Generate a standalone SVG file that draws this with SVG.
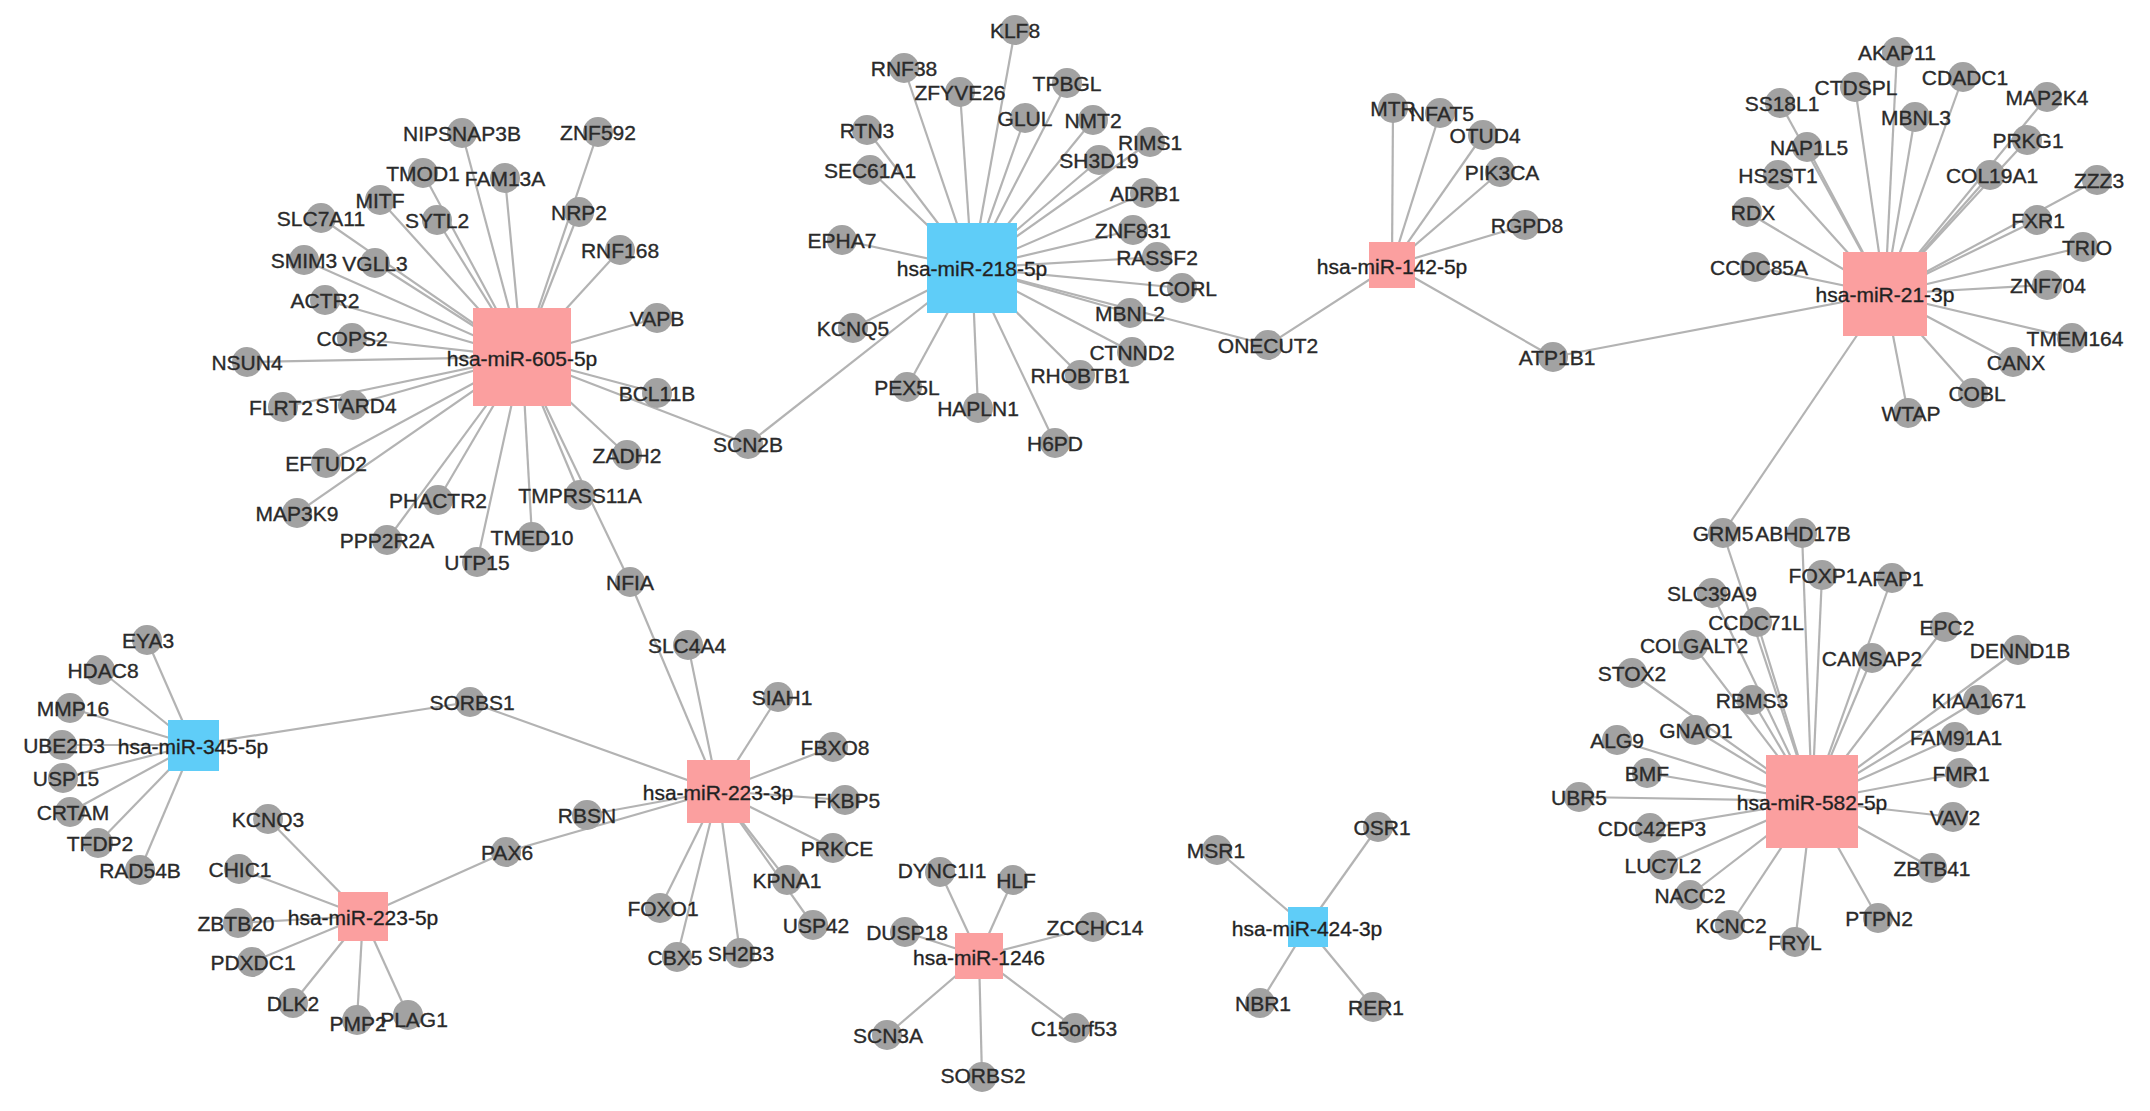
<svg xmlns="http://www.w3.org/2000/svg" width="2150" height="1111" viewBox="0 0 2150 1111">
<style>
.e line{stroke:#b3b3b3;stroke-width:2.2}
.n circle{fill:#a2a2a2}
text{font-family:"Liberation Sans",Arial,sans-serif;font-size:21px;fill:#2a2a2a;stroke:#2a2a2a;stroke-width:0.35;text-anchor:middle;dominant-baseline:central}
.p{fill:#fb9f9f}
.b{fill:#5fcdf8}
.m text{fill:#1f1f1f}
</style>
<rect width="2150" height="1111" fill="#fff"/>
<g id="connectors" class="e">
<line x1="522" y1="357" x2="462" y2="133"/><line x1="522" y1="357" x2="598" y2="132"/><line x1="522" y1="357" x2="423" y2="173"/><line x1="522" y1="357" x2="505" y2="178"/><line x1="522" y1="357" x2="380" y2="200"/><line x1="522" y1="357" x2="321" y2="218"/><line x1="522" y1="357" x2="437" y2="220"/><line x1="522" y1="357" x2="579" y2="212"/><line x1="522" y1="357" x2="620" y2="250"/><line x1="522" y1="357" x2="304" y2="260"/><line x1="522" y1="357" x2="375" y2="263"/><line x1="522" y1="357" x2="325" y2="300"/><line x1="522" y1="357" x2="352" y2="338"/><line x1="522" y1="357" x2="657" y2="318"/><line x1="522" y1="357" x2="247" y2="362"/><line x1="522" y1="357" x2="657" y2="393"/><line x1="522" y1="357" x2="283" y2="407"/><line x1="522" y1="357" x2="353" y2="405"/><line x1="522" y1="357" x2="326" y2="463"/><line x1="522" y1="357" x2="297" y2="513"/><line x1="522" y1="357" x2="438" y2="500"/><line x1="522" y1="357" x2="387" y2="540"/><line x1="522" y1="357" x2="477" y2="562"/><line x1="522" y1="357" x2="532" y2="537"/><line x1="522" y1="357" x2="580" y2="495"/><line x1="522" y1="357" x2="627" y2="455"/><line x1="522" y1="357" x2="630" y2="582"/><line x1="522" y1="357" x2="748" y2="444"/>
<line x1="972" y1="268" x2="1015" y2="30"/><line x1="972" y1="268" x2="904" y2="68"/><line x1="972" y1="268" x2="960" y2="92"/><line x1="972" y1="268" x2="1067" y2="83"/><line x1="972" y1="268" x2="1025" y2="118"/><line x1="972" y1="268" x2="1093" y2="120"/><line x1="972" y1="268" x2="867" y2="130"/><line x1="972" y1="268" x2="1150" y2="142"/><line x1="972" y1="268" x2="1099" y2="160"/><line x1="972" y1="268" x2="870" y2="170"/><line x1="972" y1="268" x2="1145" y2="193"/><line x1="972" y1="268" x2="1133" y2="230"/><line x1="972" y1="268" x2="842" y2="240"/><line x1="972" y1="268" x2="1157" y2="257"/><line x1="972" y1="268" x2="1182" y2="288"/><line x1="972" y1="268" x2="1130" y2="313"/><line x1="972" y1="268" x2="853" y2="328"/><line x1="972" y1="268" x2="1132" y2="352"/><line x1="972" y1="268" x2="1080" y2="375"/><line x1="972" y1="268" x2="907" y2="387"/><line x1="972" y1="268" x2="978" y2="408"/><line x1="972" y1="268" x2="1055" y2="443"/><line x1="972" y1="268" x2="1268" y2="345"/><line x1="972" y1="268" x2="748" y2="444"/>
<line x1="1392" y1="265" x2="1393" y2="108"/><line x1="1392" y1="265" x2="1440" y2="113"/><line x1="1392" y1="265" x2="1483" y2="135"/><line x1="1392" y1="265" x2="1500" y2="172"/><line x1="1392" y1="265" x2="1525" y2="225"/><line x1="1392" y1="265" x2="1268" y2="345"/><line x1="1392" y1="265" x2="1553" y2="357"/>
<line x1="1885" y1="294" x2="1897" y2="52"/><line x1="1885" y1="294" x2="1855" y2="87"/><line x1="1885" y1="294" x2="1963" y2="77"/><line x1="1885" y1="294" x2="1780" y2="103"/><line x1="1885" y1="294" x2="2047" y2="97"/><line x1="1885" y1="294" x2="1915" y2="117"/><line x1="1885" y1="294" x2="2027" y2="140"/><line x1="1885" y1="294" x2="1807" y2="147"/><line x1="1885" y1="294" x2="1778" y2="175"/><line x1="1885" y1="294" x2="1990" y2="175"/><line x1="1885" y1="294" x2="2097" y2="180"/><line x1="1885" y1="294" x2="1747" y2="212"/><line x1="1885" y1="294" x2="2037" y2="220"/><line x1="1885" y1="294" x2="2083" y2="247"/><line x1="1885" y1="294" x2="1755" y2="267"/><line x1="1885" y1="294" x2="2047" y2="285"/><line x1="1885" y1="294" x2="2072" y2="338"/><line x1="1885" y1="294" x2="2013" y2="362"/><line x1="1885" y1="294" x2="1973" y2="393"/><line x1="1885" y1="294" x2="1908" y2="413"/><line x1="1885" y1="294" x2="1553" y2="357"/><line x1="1885" y1="294" x2="1723" y2="533"/>
<line x1="1812" y1="801" x2="1723" y2="533"/><line x1="1812" y1="801" x2="1802" y2="533"/><line x1="1812" y1="801" x2="1822" y2="575"/><line x1="1812" y1="801" x2="1892" y2="578"/><line x1="1812" y1="801" x2="1712" y2="593"/><line x1="1812" y1="801" x2="1757" y2="622"/><line x1="1812" y1="801" x2="1945" y2="627"/><line x1="1812" y1="801" x2="1693" y2="645"/><line x1="1812" y1="801" x2="2018" y2="650"/><line x1="1812" y1="801" x2="1872" y2="658"/><line x1="1812" y1="801" x2="1632" y2="673"/><line x1="1812" y1="801" x2="1752" y2="700"/><line x1="1812" y1="801" x2="1978" y2="700"/><line x1="1812" y1="801" x2="1617" y2="740"/><line x1="1812" y1="801" x2="1695" y2="730"/><line x1="1812" y1="801" x2="1955" y2="737"/><line x1="1812" y1="801" x2="1647" y2="773"/><line x1="1812" y1="801" x2="1960" y2="773"/><line x1="1812" y1="801" x2="1579" y2="797"/><line x1="1812" y1="801" x2="1650" y2="828"/><line x1="1812" y1="801" x2="1953" y2="817"/><line x1="1812" y1="801" x2="1663" y2="865"/><line x1="1812" y1="801" x2="1932" y2="868"/><line x1="1812" y1="801" x2="1690" y2="895"/><line x1="1812" y1="801" x2="1878" y2="918"/><line x1="1812" y1="801" x2="1730" y2="925"/><line x1="1812" y1="801" x2="1795" y2="942"/>
<line x1="193" y1="745" x2="147" y2="640"/><line x1="193" y1="745" x2="100" y2="670"/><line x1="193" y1="745" x2="70" y2="708"/><line x1="193" y1="745" x2="62" y2="745"/><line x1="193" y1="745" x2="63" y2="778"/><line x1="193" y1="745" x2="70" y2="812"/><line x1="193" y1="745" x2="98" y2="843"/><line x1="193" y1="745" x2="140" y2="870"/><line x1="193" y1="745" x2="470" y2="702"/>
<line x1="363" y1="916" x2="268" y2="819"/><line x1="363" y1="916" x2="239" y2="869"/><line x1="363" y1="916" x2="238" y2="923"/><line x1="363" y1="916" x2="252" y2="962"/><line x1="363" y1="916" x2="293" y2="1003"/><line x1="363" y1="916" x2="357" y2="1020"/><line x1="363" y1="916" x2="408" y2="1015"/><line x1="363" y1="916" x2="506" y2="852"/>
<line x1="718" y1="791" x2="630" y2="582"/><line x1="718" y1="791" x2="688" y2="645"/><line x1="718" y1="791" x2="778" y2="697"/><line x1="718" y1="791" x2="833" y2="747"/><line x1="718" y1="791" x2="845" y2="800"/><line x1="718" y1="791" x2="833" y2="848"/><line x1="718" y1="791" x2="787" y2="880"/><line x1="718" y1="791" x2="813" y2="925"/><line x1="718" y1="791" x2="740" y2="953"/><line x1="718" y1="791" x2="677" y2="957"/><line x1="718" y1="791" x2="660" y2="908"/><line x1="718" y1="791" x2="587" y2="815"/><line x1="718" y1="791" x2="506" y2="852"/><line x1="718" y1="791" x2="470" y2="702"/>
<line x1="979" y1="956" x2="940" y2="872"/><line x1="979" y1="956" x2="1013" y2="880"/><line x1="979" y1="956" x2="905" y2="932"/><line x1="979" y1="956" x2="1093" y2="927"/><line x1="979" y1="956" x2="887" y2="1035"/><line x1="979" y1="956" x2="1075" y2="1028"/><line x1="979" y1="956" x2="982" y2="1077"/>
<line x1="1307" y1="927" x2="1217" y2="850"/><line x1="1307" y1="927" x2="1378" y2="827"/><line x1="1307" y1="927" x2="1260" y2="1003"/><line x1="1307" y1="927" x2="1373" y2="1007"/>
</g>
<g id="mirnas" class="m">
<g id="hsa-miR-605-5p"><rect class="p" x="473" y="308" width="98" height="98"/><text x="522" y="358">hsa-miR-605-5p</text></g>
<g id="hsa-miR-218-5p"><rect class="b" x="927" y="223" width="90" height="90"/><text x="972" y="268">hsa-miR-218-5p</text></g>
<g id="hsa-miR-142-5p"><rect class="p" x="1369" y="242" width="46" height="46"/><text x="1392" y="266">hsa-miR-142-5p</text></g>
<g id="hsa-miR-21-3p"><rect class="p" x="1843" y="252" width="84" height="84"/><text x="1885" y="294">hsa-miR-21-3p</text></g>
<g id="hsa-miR-582-5p"><rect class="p" x="1766" y="755" width="92" height="93"/><text x="1812" y="802">hsa-miR-582-5p</text></g>
<g id="hsa-miR-345-5p"><rect class="b" x="168" y="720" width="51" height="51"/><text x="193" y="746">hsa-miR-345-5p</text></g>
<g id="hsa-miR-223-5p"><rect class="p" x="338" y="892" width="50" height="49"/><text x="363" y="917">hsa-miR-223-5p</text></g>
<g id="hsa-miR-223-3p"><rect class="p" x="687" y="760" width="63" height="63"/><text x="718" y="792">hsa-miR-223-3p</text></g>
<g id="hsa-miR-1246"><rect class="p" x="955" y="933" width="48" height="46"/><text x="979" y="957">hsa-miR-1246</text></g>
<g id="hsa-miR-424-3p"><rect class="b" x="1288" y="907" width="40" height="40"/><text x="1307" y="928">hsa-miR-424-3p</text></g>
</g>
<g id="genes" class="n">
<g id="NIPSNAP3B"><circle cx="462" cy="133" r="15"/><text x="462" y="133">NIPSNAP3B</text></g>
<g id="ZNF592"><circle cx="598" cy="132" r="15"/><text x="598" y="132">ZNF592</text></g>
<g id="TMOD1"><circle cx="423" cy="173" r="15"/><text x="423" y="173">TMOD1</text></g>
<g id="FAM13A"><circle cx="505" cy="178" r="15"/><text x="505" y="178">FAM13A</text></g>
<g id="MITF"><circle cx="380" cy="200" r="15"/><text x="380" y="200">MITF</text></g>
<g id="SLC7A11"><circle cx="321" cy="218" r="15"/><text x="321" y="218">SLC7A11</text></g>
<g id="SYTL2"><circle cx="437" cy="220" r="15"/><text x="437" y="220">SYTL2</text></g>
<g id="NRP2"><circle cx="579" cy="212" r="15"/><text x="579" y="212">NRP2</text></g>
<g id="RNF168"><circle cx="620" cy="250" r="15"/><text x="620" y="250">RNF168</text></g>
<g id="SMIM3"><circle cx="304" cy="260" r="15"/><text x="304" y="260">SMIM3</text></g>
<g id="VGLL3"><circle cx="375" cy="263" r="15"/><text x="375" y="263">VGLL3</text></g>
<g id="ACTR2"><circle cx="325" cy="300" r="15"/><text x="325" y="300">ACTR2</text></g>
<g id="COPS2"><circle cx="352" cy="338" r="15"/><text x="352" y="338">COPS2</text></g>
<g id="VAPB"><circle cx="657" cy="318" r="15"/><text x="657" y="318">VAPB</text></g>
<g id="NSUN4"><circle cx="247" cy="362" r="15"/><text x="247" y="362">NSUN4</text></g>
<g id="BCL11B"><circle cx="657" cy="393" r="15"/><text x="657" y="393">BCL11B</text></g>
<g id="FLRT2"><circle cx="283" cy="407" r="15"/><text x="281" y="407">FLRT2</text></g>
<g id="STARD4"><circle cx="353" cy="405" r="15"/><text x="356" y="405">STARD4</text></g>
<g id="EFTUD2"><circle cx="326" cy="463" r="15"/><text x="326" y="463">EFTUD2</text></g>
<g id="MAP3K9"><circle cx="297" cy="513" r="15"/><text x="297" y="513">MAP3K9</text></g>
<g id="PHACTR2"><circle cx="438" cy="500" r="15"/><text x="438" y="500">PHACTR2</text></g>
<g id="PPP2R2A"><circle cx="387" cy="540" r="15"/><text x="387" y="540">PPP2R2A</text></g>
<g id="UTP15"><circle cx="477" cy="562" r="15"/><text x="477" y="562">UTP15</text></g>
<g id="TMED10"><circle cx="532" cy="537" r="15"/><text x="532" y="537">TMED10</text></g>
<g id="TMPRSS11A"><circle cx="580" cy="495" r="15"/><text x="580" y="495">TMPRSS11A</text></g>
<g id="ZADH2"><circle cx="627" cy="455" r="15"/><text x="627" y="455">ZADH2</text></g>
<g id="NFIA"><circle cx="630" cy="582" r="15"/><text x="630" y="582">NFIA</text></g>
<g id="SCN2B"><circle cx="748" cy="444" r="15"/><text x="748" y="444">SCN2B</text></g>
<g id="KLF8"><circle cx="1015" cy="30" r="15"/><text x="1015" y="30">KLF8</text></g>
<g id="RNF38"><circle cx="904" cy="68" r="15"/><text x="904" y="68">RNF38</text></g>
<g id="ZFYVE26"><circle cx="960" cy="92" r="15"/><text x="960" y="92">ZFYVE26</text></g>
<g id="TPBGL"><circle cx="1067" cy="83" r="15"/><text x="1067" y="83">TPBGL</text></g>
<g id="GLUL"><circle cx="1025" cy="118" r="15"/><text x="1025" y="118">GLUL</text></g>
<g id="NMT2"><circle cx="1093" cy="120" r="15"/><text x="1093" y="120">NMT2</text></g>
<g id="RTN3"><circle cx="867" cy="130" r="15"/><text x="867" y="130">RTN3</text></g>
<g id="RIMS1"><circle cx="1150" cy="142" r="15"/><text x="1150" y="142">RIMS1</text></g>
<g id="SH3D19"><circle cx="1099" cy="160" r="15"/><text x="1099" y="160">SH3D19</text></g>
<g id="SEC61A1"><circle cx="870" cy="170" r="15"/><text x="870" y="170">SEC61A1</text></g>
<g id="ADRB1"><circle cx="1145" cy="193" r="15"/><text x="1145" y="193">ADRB1</text></g>
<g id="ZNF831"><circle cx="1133" cy="230" r="15"/><text x="1133" y="230">ZNF831</text></g>
<g id="EPHA7"><circle cx="842" cy="240" r="15"/><text x="842" y="240">EPHA7</text></g>
<g id="RASSF2"><circle cx="1157" cy="257" r="15"/><text x="1157" y="257">RASSF2</text></g>
<g id="LCORL"><circle cx="1182" cy="288" r="15"/><text x="1182" y="288">LCORL</text></g>
<g id="MBNL2"><circle cx="1130" cy="313" r="15"/><text x="1130" y="313">MBNL2</text></g>
<g id="KCNQ5"><circle cx="853" cy="328" r="15"/><text x="853" y="328">KCNQ5</text></g>
<g id="CTNND2"><circle cx="1132" cy="352" r="15"/><text x="1132" y="352">CTNND2</text></g>
<g id="RHOBTB1"><circle cx="1080" cy="375" r="15"/><text x="1080" y="375">RHOBTB1</text></g>
<g id="PEX5L"><circle cx="907" cy="387" r="15"/><text x="907" y="387">PEX5L</text></g>
<g id="HAPLN1"><circle cx="978" cy="408" r="15"/><text x="978" y="408">HAPLN1</text></g>
<g id="H6PD"><circle cx="1055" cy="443" r="15"/><text x="1055" y="443">H6PD</text></g>
<g id="ONECUT2"><circle cx="1268" cy="345" r="15"/><text x="1268" y="345">ONECUT2</text></g>
<g id="MTR"><circle cx="1393" cy="108" r="15"/><text x="1393" y="108">MTR</text></g>
<g id="NFAT5"><circle cx="1440" cy="113" r="15"/><text x="1442" y="113">NFAT5</text></g>
<g id="OTUD4"><circle cx="1483" cy="135" r="15"/><text x="1485" y="135">OTUD4</text></g>
<g id="PIK3CA"><circle cx="1500" cy="172" r="15"/><text x="1502" y="172">PIK3CA</text></g>
<g id="RGPD8"><circle cx="1525" cy="225" r="15"/><text x="1527" y="225">RGPD8</text></g>
<g id="ATP1B1"><circle cx="1553" cy="357" r="15"/><text x="1557" y="357">ATP1B1</text></g>
<g id="AKAP11"><circle cx="1897" cy="52" r="15"/><text x="1897" y="52">AKAP11</text></g>
<g id="CTDSPL"><circle cx="1855" cy="87" r="15"/><text x="1856" y="87">CTDSPL</text></g>
<g id="CDADC1"><circle cx="1963" cy="77" r="15"/><text x="1965" y="77">CDADC1</text></g>
<g id="SS18L1"><circle cx="1780" cy="103" r="15"/><text x="1782" y="103">SS18L1</text></g>
<g id="MAP2K4"><circle cx="2047" cy="97" r="15"/><text x="2047" y="97">MAP2K4</text></g>
<g id="MBNL3"><circle cx="1915" cy="117" r="15"/><text x="1916" y="117">MBNL3</text></g>
<g id="PRKG1"><circle cx="2027" cy="140" r="15"/><text x="2028" y="140">PRKG1</text></g>
<g id="NAP1L5"><circle cx="1807" cy="147" r="15"/><text x="1809" y="147">NAP1L5</text></g>
<g id="HS2ST1"><circle cx="1778" cy="175" r="15"/><text x="1778" y="175">HS2ST1</text></g>
<g id="COL19A1"><circle cx="1990" cy="175" r="15"/><text x="1992" y="175">COL19A1</text></g>
<g id="ZZZ3"><circle cx="2097" cy="180" r="15"/><text x="2099" y="180">ZZZ3</text></g>
<g id="RDX"><circle cx="1747" cy="212" r="15"/><text x="1753" y="212">RDX</text></g>
<g id="FXR1"><circle cx="2037" cy="220" r="15"/><text x="2038" y="220">FXR1</text></g>
<g id="TRIO"><circle cx="2083" cy="247" r="15"/><text x="2087" y="247">TRIO</text></g>
<g id="CCDC85A"><circle cx="1755" cy="267" r="15"/><text x="1759" y="267">CCDC85A</text></g>
<g id="ZNF704"><circle cx="2047" cy="285" r="15"/><text x="2048" y="285">ZNF704</text></g>
<g id="TMEM164"><circle cx="2072" cy="338" r="15"/><text x="2075" y="338">TMEM164</text></g>
<g id="CANX"><circle cx="2013" cy="362" r="15"/><text x="2016" y="362">CANX</text></g>
<g id="COBL"><circle cx="1973" cy="393" r="15"/><text x="1977" y="393">COBL</text></g>
<g id="WTAP"><circle cx="1908" cy="413" r="15"/><text x="1911" y="413">WTAP</text></g>
<g id="GRM5"><circle cx="1723" cy="533" r="15"/><text x="1723" y="533">GRM5</text></g>
<g id="ABHD17B"><circle cx="1802" cy="533" r="15"/><text x="1803" y="533">ABHD17B</text></g>
<g id="FOXP1"><circle cx="1822" cy="575" r="15"/><text x="1823" y="575">FOXP1</text></g>
<g id="AFAP1"><circle cx="1892" cy="578" r="15"/><text x="1891" y="578">AFAP1</text></g>
<g id="SLC39A9"><circle cx="1712" cy="593" r="15"/><text x="1712" y="593">SLC39A9</text></g>
<g id="CCDC71L"><circle cx="1757" cy="622" r="15"/><text x="1756" y="622">CCDC71L</text></g>
<g id="EPC2"><circle cx="1945" cy="627" r="15"/><text x="1947" y="627">EPC2</text></g>
<g id="COLGALT2"><circle cx="1693" cy="645" r="15"/><text x="1694" y="645">COLGALT2</text></g>
<g id="DENND1B"><circle cx="2018" cy="650" r="15"/><text x="2020" y="650">DENND1B</text></g>
<g id="CAMSAP2"><circle cx="1872" cy="658" r="15"/><text x="1872" y="658">CAMSAP2</text></g>
<g id="STOX2"><circle cx="1632" cy="673" r="15"/><text x="1632" y="673">STOX2</text></g>
<g id="RBMS3"><circle cx="1752" cy="700" r="15"/><text x="1752" y="700">RBMS3</text></g>
<g id="KIAA1671"><circle cx="1978" cy="700" r="15"/><text x="1979" y="700">KIAA1671</text></g>
<g id="ALG9"><circle cx="1617" cy="740" r="15"/><text x="1617" y="740">ALG9</text></g>
<g id="GNAO1"><circle cx="1695" cy="730" r="15"/><text x="1696" y="730">GNAO1</text></g>
<g id="FAM91A1"><circle cx="1955" cy="737" r="15"/><text x="1956" y="737">FAM91A1</text></g>
<g id="BMF"><circle cx="1647" cy="773" r="15"/><text x="1647" y="773">BMF</text></g>
<g id="FMR1"><circle cx="1960" cy="773" r="15"/><text x="1961" y="773">FMR1</text></g>
<g id="UBR5"><circle cx="1579" cy="797" r="15"/><text x="1579" y="797">UBR5</text></g>
<g id="CDC42EP3"><circle cx="1650" cy="828" r="15"/><text x="1652" y="828">CDC42EP3</text></g>
<g id="VAV2"><circle cx="1953" cy="817" r="15"/><text x="1955" y="817">VAV2</text></g>
<g id="LUC7L2"><circle cx="1663" cy="865" r="15"/><text x="1663" y="865">LUC7L2</text></g>
<g id="ZBTB41"><circle cx="1932" cy="868" r="15"/><text x="1932" y="868">ZBTB41</text></g>
<g id="NACC2"><circle cx="1690" cy="895" r="15"/><text x="1690" y="895">NACC2</text></g>
<g id="PTPN2"><circle cx="1878" cy="918" r="15"/><text x="1879" y="918">PTPN2</text></g>
<g id="KCNC2"><circle cx="1730" cy="925" r="15"/><text x="1731" y="925">KCNC2</text></g>
<g id="FRYL"><circle cx="1795" cy="942" r="15"/><text x="1795" y="942">FRYL</text></g>
<g id="EYA3"><circle cx="147" cy="640" r="15"/><text x="148" y="640">EYA3</text></g>
<g id="HDAC8"><circle cx="100" cy="670" r="15"/><text x="103" y="670">HDAC8</text></g>
<g id="MMP16"><circle cx="70" cy="708" r="15"/><text x="73" y="708">MMP16</text></g>
<g id="UBE2D3"><circle cx="62" cy="745" r="15"/><text x="64" y="745">UBE2D3</text></g>
<g id="USP15"><circle cx="63" cy="778" r="15"/><text x="66" y="778">USP15</text></g>
<g id="CRTAM"><circle cx="70" cy="812" r="15"/><text x="73" y="812">CRTAM</text></g>
<g id="TFDP2"><circle cx="98" cy="843" r="15"/><text x="100" y="843">TFDP2</text></g>
<g id="RAD54B"><circle cx="140" cy="870" r="15"/><text x="140" y="870">RAD54B</text></g>
<g id="SORBS1"><circle cx="470" cy="702" r="15"/><text x="472" y="702">SORBS1</text></g>
<g id="KCNQ3"><circle cx="268" cy="819" r="15"/><text x="268" y="819">KCNQ3</text></g>
<g id="CHIC1"><circle cx="239" cy="869" r="15"/><text x="240" y="869">CHIC1</text></g>
<g id="ZBTB20"><circle cx="238" cy="923" r="15"/><text x="236" y="923">ZBTB20</text></g>
<g id="PDXDC1"><circle cx="252" cy="962" r="15"/><text x="253" y="962">PDXDC1</text></g>
<g id="DLK2"><circle cx="293" cy="1003" r="15"/><text x="293" y="1003">DLK2</text></g>
<g id="PMP2"><circle cx="357" cy="1020" r="15"/><text x="358" y="1023">PMP2</text></g>
<g id="PLAG1"><circle cx="408" cy="1015" r="15"/><text x="414" y="1019">PLAG1</text></g>
<g id="PAX6"><circle cx="506" cy="852" r="15"/><text x="507" y="852">PAX6</text></g>
<g id="SLC4A4"><circle cx="688" cy="645" r="15"/><text x="687" y="645">SLC4A4</text></g>
<g id="SIAH1"><circle cx="778" cy="697" r="15"/><text x="782" y="697">SIAH1</text></g>
<g id="FBXO8"><circle cx="833" cy="747" r="15"/><text x="835" y="747">FBXO8</text></g>
<g id="FKBP5"><circle cx="845" cy="800" r="15"/><text x="847" y="800">FKBP5</text></g>
<g id="PRKCE"><circle cx="833" cy="848" r="15"/><text x="837" y="848">PRKCE</text></g>
<g id="KPNA1"><circle cx="787" cy="880" r="15"/><text x="787" y="880">KPNA1</text></g>
<g id="USP42"><circle cx="813" cy="925" r="15"/><text x="816" y="925">USP42</text></g>
<g id="SH2B3"><circle cx="740" cy="953" r="15"/><text x="741" y="953">SH2B3</text></g>
<g id="CBX5"><circle cx="677" cy="957" r="15"/><text x="675" y="957">CBX5</text></g>
<g id="FOXO1"><circle cx="660" cy="908" r="15"/><text x="663" y="908">FOXO1</text></g>
<g id="RBSN"><circle cx="587" cy="815" r="15"/><text x="587" y="815">RBSN</text></g>
<g id="DYNC1I1"><circle cx="940" cy="872" r="15"/><text x="942" y="870">DYNC1I1</text></g>
<g id="HLF"><circle cx="1013" cy="880" r="15"/><text x="1016" y="880">HLF</text></g>
<g id="DUSP18"><circle cx="905" cy="932" r="15"/><text x="907" y="932">DUSP18</text></g>
<g id="ZCCHC14"><circle cx="1093" cy="927" r="15"/><text x="1095" y="927">ZCCHC14</text></g>
<g id="SCN3A"><circle cx="887" cy="1035" r="15"/><text x="888" y="1035">SCN3A</text></g>
<g id="C15orf53"><circle cx="1075" cy="1028" r="15"/><text x="1074" y="1028">C15orf53</text></g>
<g id="SORBS2"><circle cx="982" cy="1077" r="15"/><text x="983" y="1075">SORBS2</text></g>
<g id="MSR1"><circle cx="1217" cy="850" r="15"/><text x="1216" y="850">MSR1</text></g>
<g id="OSR1"><circle cx="1378" cy="827" r="15"/><text x="1382" y="827">OSR1</text></g>
<g id="NBR1"><circle cx="1260" cy="1003" r="15"/><text x="1263" y="1003">NBR1</text></g>
<g id="RER1"><circle cx="1373" cy="1007" r="15"/><text x="1376" y="1007">RER1</text></g>
</g>
</svg>
